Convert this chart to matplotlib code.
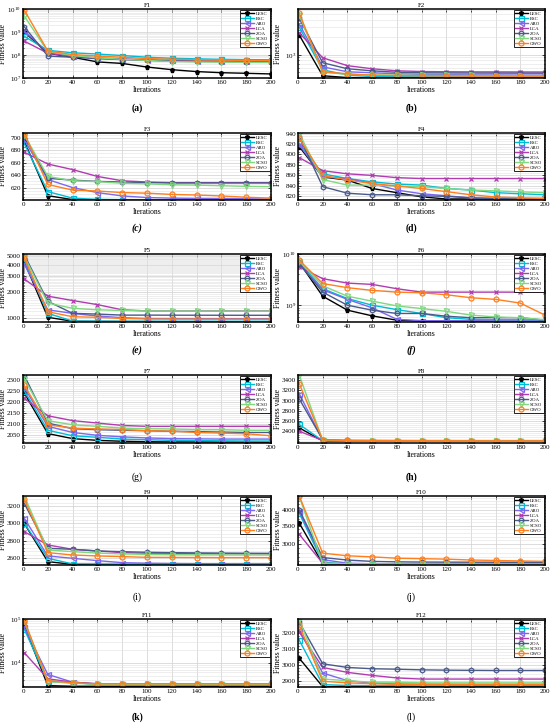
import numpy as np
import matplotlib
matplotlib.use("Agg")
from matplotlib import pyplot as plt
from matplotlib import ticker

plt.rcParams['font.family'] = ['Liberation Serif', 'DejaVu Serif']
plt.rcParams['mathtext.fontset'] = 'stix'

iters = [1, 20, 40, 60, 80, 100, 120, 140, 160, 180, 200]
algos = ['LESC', 'ESC', 'ARO', 'LCA', 'ZOA', 'SCSO', 'GWO']
colors = ['black', '#00bcd4', '#7b68ee', '#b03cb0', '#4a5a8a', '#80d880', '#ff7f1e']
markers = ['p', 's', '<', 'x', 'h', 'v', 'o']

# rows follow algos order
f1 = [[1.0e9, 1.2e8, 8.0e7, 5.0e7, 4.3e7, 3.0e7, 2.3e7, 1.9e7, 1.7e7, 1.6e7, 1.5e7],
      [6.5e8, 1.6e8, 1.25e8, 1.1e8, 9.5e7, 8.0e7, 7.2e7, 6.8e7, 6.5e7, 6.3e7, 6.2e7],
      [1.1e9, 1.3e8, 9.0e7, 7.5e7, 6.8e7, 6.2e7, 5.8e7, 5.6e7, 5.5e7, 5.4e7, 5.3e7],
      [4.0e8, 1.2e8, 8.5e7, 7.2e7, 6.5e7, 6.0e7, 5.6e7, 5.4e7, 5.3e7, 5.2e7, 5.1e7],
      [1.7e9, 9.0e7, 8.0e7, 7.0e7, 6.3e7, 5.8e7, 5.5e7, 5.3e7, 5.2e7, 5.1e7, 5.0e7],
      [5.0e9, 1.4e8, 9.5e7, 7.5e7, 6.5e7, 5.8e7, 5.2e7, 5.0e7, 4.9e7, 4.8e7, 4.7e7],
      [9.0e9, 1.5e8, 1.05e8, 9.0e7, 8.0e7, 7.0e7, 6.5e7, 6.2e7, 6.0e7, 5.8e7, 5.7e7]]
f2 = [[2200, 435, 405, 403, 402, 401, 401, 401, 400.5, 400.5, 400.5],
      [3000, 550, 450, 420, 418, 416, 415, 414, 413, 412, 412],
      [3400, 620, 510, 490, 470, 460, 455, 452, 450, 448, 447],
      [2400, 890, 650, 575, 530, 515, 510, 508, 507, 506, 505],
      [4300, 730, 575, 530, 500, 490, 487, 485, 484, 483, 482],
      [4900, 500, 460, 450, 445, 443, 441, 440, 439, 438, 438],
      [5300, 510, 470, 445, 440, 435, 432, 430, 430, 429, 429]]
f3 = [[695, 607, 600.6, 600.4, 600.3, 600.3, 600.2, 600.2, 600.2, 600.2, 600.2],
      [691, 613.5, 603, 601, 600.6, 600.5, 600.4, 600.4, 600.3, 600.3, 600.3],
      [697, 633, 620, 612, 606.5, 604, 603, 602.5, 602.3, 602, 601.5],
      [677, 658, 649, 638, 631, 629, 628, 628, 628, 628, 628],
      [703, 635, 632, 630, 629, 628, 627.5, 627.5, 627.5, 627.5, 627.5],
      [705, 638, 631, 629.5, 627, 626, 624.5, 624, 623, 622, 621.5],
      [707, 625, 616, 614.5, 612, 611, 609, 608, 606.5, 604.5, 603]]
f4 = [[915, 857, 851, 835, 827, 819, 815, 815, 815, 815, 815],
      [921.5, 863, 854, 847.7, 843.4, 841.5, 835, 832, 827, 825, 823],
      [918.5, 857, 854, 844.6, 832, 825, 821, 817, 816, 815.7, 815.7],
      [894, 869, 863, 860, 855.7, 854, 854, 854, 854, 854, 854],
      [934, 838.5, 826, 823, 823, 821, 820, 817, 816, 815.7, 815.7],
      [940, 852, 841.5, 841.5, 839.7, 838.5, 835, 832, 830.5, 828.6, 827],
      [931, 860, 851, 844.6, 839.7, 835, 829, 823, 818.8, 817, 816]]
f5 = [[4340, 1030, 930, 925, 922, 921, 920, 920, 919, 919, 918],
      [4500, 1140, 935, 933, 932, 931, 930, 930, 930, 930, 930],
      [4100, 1250, 1140, 1065, 1020, 1000, 998, 997, 996, 995, 995],
      [2780, 1780, 1590, 1430, 1250, 1215, 1215, 1215, 1215, 1215, 1215],
      [5200, 1560, 1140, 1120, 1090, 1090, 1088, 1087, 1086, 1085, 1085],
      [5000, 1490, 1300, 1250, 1230, 1215, 1213, 1212, 1211, 1210, 1210],
      [4800, 1190, 1045, 1030, 1000, 985, 983, 982, 981, 980, 980]]
f6 = [[6.8e9, 1.5e9, 8.0e8, 6.2e8, 5.1e8, 4.9e8, 4.9e8, 4.9e8, 4.85e8, 4.85e8, 4.8e8],
      [7.0e9, 2.1e9, 1.35e9, 1.0e9, 8.2e8, 6.9e8, 5.7e8, 5.3e8, 5.2e8, 5.2e8, 5.1e8],
      [6.3e9, 2.0e9, 1.3e9, 8.9e8, 5.3e8, 5.0e8, 4.95e8, 4.95e8, 4.9e8, 4.9e8, 4.9e8],
      [5.6e9, 3.3e9, 2.7e9, 2.55e9, 2.1e9, 1.8e9, 1.8e9, 1.8e9, 1.8e9, 1.8e9, 1.8e9],
      [6.5e9, 1.8e9, 1.0e9, 8.0e8, 6.9e8, 6.9e8, 6.1e8, 5.7e8, 5.7e8, 5.7e8, 5.1e8],
      [7.2e9, 2.4e9, 1.5e9, 1.2e9, 9.7e8, 8.6e8, 7.6e8, 6.4e8, 5.9e8, 5.7e8, 5.2e8],
      [7.6e9, 2.65e9, 2.2e9, 1.95e9, 1.8e9, 1.75e9, 1.6e9, 1.4e9, 1.3e9, 1.1e9, 6.4e8]]
f7 = [[2240, 2055, 2032, 2024, 2020, 2018, 2017, 2017, 2016, 2016, 2015],
      [2250, 2070, 2045, 2038, 2030, 2027, 2024, 2023, 2022, 2021, 2021],
      [2265, 2088, 2060, 2047, 2040, 2035, 2032, 2031, 2030, 2030, 2030],
      [2215, 2136, 2114, 2103, 2092, 2088, 2088, 2088, 2088, 2088, 2088],
      [2320, 2103, 2077, 2073, 2070, 2068, 2065, 2064, 2062, 2060, 2060],
      [2305, 2114, 2095, 2088, 2080, 2077, 2076, 2073, 2073, 2070, 2070],
      [2275, 2095, 2080, 2076, 2073, 2068, 2066, 2060, 2057, 2054, 2045]]
f8 = [[2467, 2210, 2205, 2204, 2203, 2203, 2203, 2203, 2203, 2203, 2203],
      [2533, 2215, 2207, 2206, 2205, 2205, 2205, 2205, 2205, 2205, 2205],
      [3133, 2225, 2213, 2210, 2209, 2208, 2208, 2207, 2207, 2207, 2207],
      [2400, 2220, 2215, 2213, 2212, 2211, 2211, 2211, 2211, 2210, 2210],
      [3033, 2235, 2220, 2218, 2217, 2216, 2216, 2215, 2215, 2214, 2214],
      [3500, 2223, 2215, 2212, 2211, 2210, 2210, 2210, 2209, 2209, 2209],
      [3333, 2230, 2220, 2217, 2215, 2214, 2214, 2213, 2213, 2212, 2212]]
f9 = [[3000, 2562, 2530, 2529.5, 2529.3, 2529.2, 2529.1, 2529, 2529, 2529, 2529],
      [3002, 2600, 2535, 2532, 2531, 2530.5, 2530.3, 2530.2, 2530.1, 2530, 2530],
      [3059, 2627, 2600, 2573, 2550, 2543, 2540, 2538, 2537, 2536, 2535],
      [2906, 2753, 2703, 2684, 2665, 2657, 2655, 2653, 2652, 2651, 2650],
      [3231, 2715, 2703, 2684, 2676, 2669, 2665, 2662, 2660, 2658, 2657],
      [3315, 2696, 2676, 2660, 2650, 2645, 2642, 2640, 2639, 2638, 2638],
      [3277, 2665, 2638, 2627, 2619, 2611, 2610, 2609, 2608, 2608, 2608]]
f10 = [[3580, 2550, 2540, 2538, 2536, 2535, 2535, 2535, 2535, 2535, 2535],
       [3890, 2580, 2548, 2545, 2543, 2542, 2542, 2541, 2541, 2541, 2541],
       [3950, 2640, 2560, 2550, 2548, 2546, 2545, 2545, 2545, 2545, 2545],
       [3260, 2560, 2545, 2543, 2541, 2540, 2540, 2540, 2540, 2540, 2540],
       [4000, 2685, 2630, 2600, 2590, 2585, 2583, 2582, 2581, 2580, 2580],
       [4470, 2560, 2550, 2548, 2546, 2545, 2545, 2545, 2545, 2545, 2545],
       [4490, 2785, 2725, 2700, 2670, 2660, 2650, 2630, 2620, 2610, 2600]]
f11 = [[7.0e4, 3.0e3, 2.9e3, 2.9e3, 2.9e3, 2.9e3, 2.9e3, 2.9e3, 2.9e3, 2.9e3, 2.9e3],
       [5.9e4, 3.8e3, 3.5e3, 3.25e3, 3.2e3, 3.2e3, 3.2e3, 3.2e3, 3.2e3, 3.2e3, 3.2e3],
       [6.4e4, 5.4e3, 3.6e3, 3.3e3, 3.25e3, 3.2e3, 3.2e3, 3.2e3, 3.2e3, 3.2e3, 3.2e3],
       [1.7e4, 4.3e3, 3.6e3, 3.3e3, 3.25e3, 3.25e3, 3.25e3, 3.25e3, 3.25e3, 3.25e3, 3.25e3],
       [8.5e4, 3.8e3, 3.5e3, 3.25e3, 3.2e3, 3.2e3, 3.2e3, 3.2e3, 3.2e3, 3.2e3, 3.2e3],
       [8.8e4, 3.7e3, 3.4e3, 3.2e3, 3.2e3, 3.2e3, 3.2e3, 3.2e3, 3.2e3, 3.2e3, 3.2e3],
       [9.2e4, 3.9e3, 3.5e3, 3.3e3, 3.3e3, 3.3e3, 3.3e3, 3.3e3, 3.3e3, 3.3e3, 3.3e3]]
f12 = [[3041, 2862, 2862, 2862, 2862, 2862, 2862, 2862, 2862, 2862, 2862],
       [3155, 2875, 2869, 2868, 2868, 2867, 2867, 2867, 2867, 2867, 2867],
       [3217, 2948, 2900, 2884, 2879, 2877, 2876, 2875, 2875, 2875, 2875],
       [3206, 2983, 2952, 2933, 2917, 2910, 2910, 2910, 2910, 2910, 2910],
       [3268, 3006, 2983, 2975, 2972, 2968, 2966, 2965, 2964, 2964, 2964],
       [3285, 2910, 2900, 2890, 2890, 2886, 2886, 2886, 2886, 2886, 2886],
       [3248, 2896, 2886, 2881, 2877, 2877, 2877, 2877, 2877, 2877, 2877]]

# (data, title, yscale, ylim, major ticks, minor ticks)
panels = [
    (f1, 'F1', 'log', (1e7, 1e10), None, None),
    (f2, 'F2', 'log', (398, 6200), None, None),
    (f3, 'F3', 'linear', (600, 708), np.arange(620, 701, 20), 4),
    (f4, 'F4', 'linear', (813, 941), np.arange(820, 941, 20), 4),
    (f5, 'F5', 'log', (912, 5300), [1000, 2000, 3000, 4000, 5000], np.arange(1000, 5300, 100)),
    (f6, 'F6', 'log', (4.7e8, 1e10), None, None),
    (f7, 'F7', 'linear', (2012, 2322), np.arange(2050, 2301, 50), 5),
    (f8, 'F8', 'linear', (2170, 3500), np.arange(2400, 3401, 200), 5),
    (f9, 'F9', 'linear', (2523, 3315), np.arange(2600, 3201, 200), 5),
    (f10, 'F10', 'log', (2523, 4490), [3000, 3500, 4000], np.arange(2600, 4500, 100)),
    (f11, 'F11', 'log', (2790, 1e5), None, None),
    (f12, 'F12', 'linear', (2860, 3288), np.arange(2900, 3201, 100), 5),
]
sub_labels = [('(a)', 'normal', 'bold'), ('(b)', 'normal', 'bold'),
              ('(c)', 'italic', 'bold'), ('(d)', 'normal', 'bold'),
              ('(e)', 'italic', 'bold'), ('(f)', 'italic', 'bold'),
              ('(g)', 'normal', 'normal'), ('(h)', 'normal', 'bold'),
              ('(i)', 'normal', 'normal'), ('(j)', 'normal', 'normal'),
              ('(k)', 'normal', 'bold'), ('(l)', 'normal', 'normal')]

W, H = 550, 727
row_top = [9, 133, 254, 375, 496, 619]
row_bot = [78, 200, 322, 443, 565, 687]
lab_y = [108, 228, 350, 477, 597, 717]
col_x = [(23, 271), (298, 545)]
lab_x = [137, 411]

fig = plt.figure(figsize=(W / 100, H / 100), dpi=100)

for i, (data, title, scale, ylim, major, minor) in enumerate(panels):
    r, c = divmod(i, 2)
    x0, x1 = col_x[c]
    ax = fig.add_axes([x0 / W, 1 - row_bot[r] / H, (x1 - x0) / W, (row_bot[r] - row_top[r]) / H])
    for k in range(len(algos)):
        ax.plot(iters, data[k], color=colors[k], marker=markers[k], lw=1.0,
                ms=3.6 if markers[k] != 'x' else 3.2, mew=0.9,
                mfc=colors[k] if markers[k] in ('p', 'x') else 'none',
                label=algos[k])
    ax.set_yscale(scale)
    ax.set_xlim(0, 200)
    ax.set_ylim(*ylim)
    ax.set_xticks(np.arange(0, 201, 20))
    if scale == 'log':
        if major is not None:
            ax.yaxis.set_major_locator(ticker.FixedLocator(major))
            ax.yaxis.set_major_formatter(ticker.FuncFormatter(lambda v, p: '%d' % v))
            ax.yaxis.set_minor_locator(ticker.FixedLocator(minor))
        else:
            ax.yaxis.set_minor_locator(ticker.LogLocator(base=10, subs=np.arange(2, 10)))
        ax.yaxis.set_minor_formatter(ticker.NullFormatter())
    else:
        ax.set_yticks(major)
        ax.yaxis.set_minor_locator(ticker.AutoMinorLocator(minor))
    ax.grid(True, which='major', color='#cfcfcf', lw=0.5)
    ax.grid(True, which='minor', axis='y', color='#e2e2e2', lw=0.4)
    ax.set_axisbelow(True)
    ax.tick_params(which='both', direction='in', top=True, right=True,
                   labelsize=5, pad=1.5, width=0.5)
    ax.tick_params(which='major', length=2)
    ax.tick_params(which='minor', length=1)
    for s in ax.spines.values():
        s.set_linewidth(1.1)
    ax.set_title(title, fontsize=5, pad=1.5)
    ax.set_xlabel('Iterations', fontsize=5.5, labelpad=1)
    ax.set_ylabel('Fitness value', fontsize=5.5)
    ax.yaxis.set_label_coords(-0.065, 0.5)
    leg = ax.legend(loc='upper right', fontsize=3.5, handlelength=2.6,
                    labelspacing=0.12, borderpad=0.25, handletextpad=0.5,
                    borderaxespad=0.3, fancybox=False, framealpha=1,
                    edgecolor='black')
    leg.get_frame().set_linewidth(0.6)
    txt, st, wt = sub_labels[i]
    fig.text(lab_x[c] / W, 1 - lab_y[r] / H, txt, fontsize=7, style=st, weight=wt,
             ha='center', va='center')

fig.savefig('out.png', dpi=100)
